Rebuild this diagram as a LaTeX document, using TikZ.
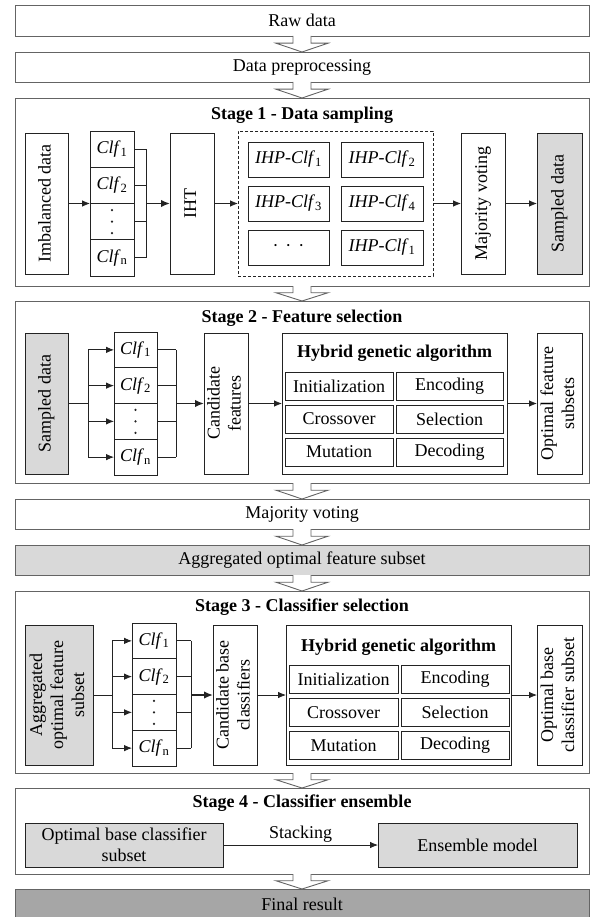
\documentclass[tikz,border=0pt]{standalone}
\usepackage{fontspec}
\usepackage{graphicx}
\setmainfont{Liberation Serif}
\usetikzlibrary{arrows.meta,calc}

\definecolor{frame}{RGB}{100,100,100}
\definecolor{ink}{RGB}{35,35,35}
\definecolor{lightfill}{RGB}{217,217,217}
\definecolor{darkfill}{RGB}{166,166,166}

\newcommand\clf[1]{\textit{Clf}\textsubscript{#1}}
\newcommand\ihp[1]{\textit{IHP-Clf}\textsubscript{#1}}
\newcommand\vlabel[1]{\rotatebox{90}{\begin{tabular}{@{}c@{}}#1\end{tabular}}}
% hollow block arrow between two stacked panels
\newcommand\hollowarrow[2]{%
  \path[hollow] let \p1=(#1.south), \p2=(#2.north), \n1={0.45*(\y1-\y2)} in
    (\x1-9pt,\y1) -- (\x1-9pt,\y1-\n1*1pt) -- (\x1-26pt,\y1-\n1*1pt) -- (\x1,\y2)
    -- (\x1+26pt,\y1-\n1*1pt) -- (\x1+9pt,\y1-\n1*1pt) -- (\x1+9pt,\y1);}

\begin{document}
\begin{tikzpicture}[x=1pt,y=-1pt,
  every node/.style={font=\fontsize{18}{21}\selectfont, inner sep=0pt, outer sep=0pt},
  outer/.style={draw=frame, line width=0.9pt, fill=white, minimum width=574pt},
  box/.style={draw=ink, line width=0.8pt, fill=white, align=center},
  gbox/.style={box, fill=lightfill},
  title/.style={font=\bfseries\fontsize{18}{21}\selectfont},
  dashedbox/.style={draw=ink, line width=0.8pt, dash pattern=on 3pt off 2pt},
  arr/.style={draw=ink, line width=0.8pt, -{Latex[length=8pt,width=6.5pt]}},
  bigarr/.style={draw=ink, line width=1.6pt, -{Latex[length=9pt,width=7.5pt]}},
  wire/.style={draw=ink, line width=0.8pt},
  hollow/.style={draw=frame, line width=0.9pt, fill=white},
  vcell/.style={box, minimum width=44pt, minimum height=35.75pt},
  gacell/.style={box, minimum height=28pt},
  ihpcell/.style={box, minimum height=35pt},
]
\useasboundingbox (0,0) rectangle (590,917);

% ---------- panels ----------
\node[outer, minimum height=31pt] (raw) at (302,20.5) {Raw data};
\node[outer, minimum height=30pt] (prep) at (302,67) {Data preprocessing};
\node[outer, minimum height=188pt] (st1) at (302,192) {};
\node[outer, minimum height=182pt] (st2) at (302,392) {};
\node[outer, minimum height=30pt] (vote) at (302,514) {Majority voting};
\node[outer, minimum height=30pt, fill=lightfill] (aggr) at (302,560) {Aggregated optimal feature subset};
\node[outer, minimum height=182pt] (st3) at (302,682) {};
\node[outer, minimum height=86pt] (st4) at (302,831) {};
\node[outer, minimum height=30pt, fill=darkfill] (fin) at (302,904) {Final result};

\hollowarrow{raw}{prep}
\hollowarrow{prep}{st1}
\hollowarrow{st1}{st2}
\hollowarrow{st2}{vote}
\hollowarrow{vote}{aggr}
\hollowarrow{aggr}{st3}
\hollowarrow{st3}{st4}
\hollowarrow{st4}{fin}

% ---------- Stage 1 ----------
\node[title] (t1) at (302,115) {Stage 1 - Data sampling};
\node[box, minimum width=43pt, minimum height=141pt] (imb) at (46.5,203.5) {\vlabel{Imbalanced data}};
\node[vcell, minimum height=36.25pt] (a1) at (112,149.125) {\clf{1}};
\node[vcell, minimum height=36.25pt] (a2) at (112,185.375) {\clf{2}};
\node[vcell, minimum height=36.25pt] (a3) at (112,221.625) {};
\node[vcell, minimum height=36.25pt] (a4) at (112,257.875) {\clf{n}};
\node[box, minimum width=44pt, minimum height=141pt] (iht) at (192,203.5) {\vlabel{IHT}};
\node[dashedbox, minimum width=195pt, minimum height=145pt] (ihp) at (335.5,203.5) {};
\node[ihpcell, minimum width=81pt] (p1) at (288.5,159.5) {\ihp{1}};
\node[ihpcell, minimum width=82pt] (p2) at (382,159.5) {\ihp{2}};
\node[ihpcell, minimum width=81pt] (p3) at (288.5,203.5) {\ihp{3}};
\node[ihpcell, minimum width=82pt] (p4) at (382,203.5) {\ihp{4}};
\node[ihpcell, minimum width=81pt] (p5) at (288.5,247.5) {·\hspace{7pt}·\hspace{7pt}·};
\node[ihpcell, minimum width=82pt] (p6) at (382,247.5) {\ihp{1}};
\node[box, minimum width=44pt, minimum height=141pt] (mv1) at (483,203.5) {\vlabel{Majority voting}};
\node[gbox, minimum width=45pt, minimum height=141pt] (sd1) at (559.5,203.5) {\vlabel{Sampled data}};

\coordinate (br1) at (146,203.5);
\draw[arr] (imb) -- (a2.south west);
\draw[wire] (a1.east) -- (a1.east -| br1) -- (a4.east -| br1) -- (a4.east);
\draw[wire] (a2.east) -- (a2.east -| br1);
\draw[wire] (a3.east) -- (a3.east -| br1);
\draw[bigarr] (br1) -- (iht);
\draw[arr] (iht) -- (ihp);
\draw[arr] (ihp) -- (mv1);
\draw[arr] (mv1) -- (sd1);

% ---------- Stage 2 ----------
\node[title] (t2) at (302,318) {Stage 2 - Feature selection};
\node[gbox, minimum width=43pt, minimum height=141pt] (sd2) at (46.5,403.5) {\vlabel{Sampled data}};
\node[vcell, minimum width=43pt] (b1) at (135.5,349.875) {\clf{1}};
\node[vcell, minimum width=43pt] (b2) at (135.5,385.625) {\clf{2}};
\node[vcell, minimum width=43pt] (b3) at (135.5,421.375) {};
\node[vcell, minimum width=43pt] (b4) at (135.5,457.125) {\clf{n}};
\node[box, minimum width=44pt, minimum height=141pt] (cand) at (226,403.5) {\vlabel{Candidate\\features}};
\node[box, minimum width=225pt, minimum height=141pt] (ga2) at (394.5,403.5) {};
\node[title] (gt2) at (394.5,353) {Hybrid genetic algorithm};
\node[gacell, minimum width=108pt] (g21) at (339,386) {Initialization};
\node[gacell, minimum width=107pt] (g22) at (449.5,386) {Encoding};
\node[gacell, minimum width=108pt] (g23) at (339,419) {Crossover};
\node[gacell, minimum width=107pt] (g24) at (449.5,419) {Selection};
\node[gacell, minimum width=108pt] (g25) at (339,452) {Mutation};
\node[gacell, minimum width=107pt] (g26) at (449.5,452) {Decoding};
\node[box, minimum width=45pt, minimum height=141pt] (ofs) at (559.5,403.5) {\vlabel{Optimal feature\\subsets}};

\coordinate (fo2) at (88,403.5);
\coordinate (fi2) at (176,403.5);
\draw[wire] (sd2) -- (fo2);
\draw[wire] (fo2 |- b1.west) -- (fo2 |- b4.west);
\foreach \c in {b1,b2,b3,b4} \draw[arr] (fo2 |- \c.west) -- (\c.west);
\draw[wire] (b1.east -| fi2) -- (b4.east -| fi2);
\foreach \c in {b1,b2,b3,b4} \draw[wire] (\c.east) -- (\c.east -| fi2);
\draw[bigarr] (fi2) -- (cand);
\draw[arr] (cand) -- (ga2);
\draw[arr] (ga2) -- (ofs);

% ---------- Stage 3 ----------
\node[title] (t3) at (302,607) {Stage 3 - Classifier selection};
\node[gbox, minimum width=68pt, minimum height=140pt] (agg3) at (59,695) {\vlabel{Aggregated\\optimal feature\\subset}};
\node[vcell] (c1) at (154,640.875) {\clf{1}};
\node[vcell] (c2) at (154,676.625) {\clf{2}};
\node[vcell] (c3) at (154,712.375) {};
\node[vcell] (c4) at (154,748.125) {\clf{n}};
\node[box, minimum width=44pt, minimum height=140pt] (cbc) at (235,695) {\vlabel{Candidate base\\classifiers}};
\node[box, minimum width=225pt, minimum height=140pt] (ga3) at (398.5,695) {};
\node[title] (gt3) at (398.5,647) {Hybrid genetic algorithm};
\node[gacell, minimum width=109pt] (g31) at (343.5,679) {Initialization};
\node[gacell, minimum width=108pt] (g32) at (455,679) {Encoding};
\node[gacell, minimum width=109pt] (g33) at (343.5,712.5) {Crossover};
\node[gacell, minimum width=108pt] (g34) at (455,712.5) {Selection};
\node[gacell, minimum width=109pt] (g35) at (343.5,745.5) {Mutation};
\node[gacell, minimum width=108pt] (g36) at (455,745.5) {Decoding};
\node[box, minimum width=45pt, minimum height=140pt] (obc) at (559.5,695) {\vlabel{Optimal base\\classifier subset}};

\coordinate (fo3) at (112,695);
\coordinate (fi3) at (191,695);
\draw[wire] (agg3) -- (fo3);
\draw[wire] (fo3 |- c1.west) -- (fo3 |- c4.west);
\foreach \c in {c1,c2,c3,c4} \draw[arr] (fo3 |- \c.west) -- (\c.west);
\draw[wire] (c1.east -| fi3) -- (c4.east -| fi3);
\foreach \c in {c1,c2,c3,c4} \draw[wire] (\c.east) -- (\c.east -| fi3);
\draw[bigarr] (fi3) -- (cbc);
\draw[arr] (cbc) -- (ga3);
\draw[arr] (ga3) -- (obc);

% vertical ellipses in the classifier columns
\foreach \c in {a3,b3,c3} {
  \fill[ink] ($(\c)+(0,-11.5)$) circle (1.2pt);
  \fill[ink] (\c) circle (1.2pt);
  \fill[ink] ($(\c)+(0,11.5)$) circle (1.2pt);
}

% ---------- Stage 4 ----------
\node[title] (t4) at (302,803) {Stage 4 - Classifier ensemble};
\node[gbox, minimum width=198pt, minimum height=44pt] (obs4) at (124,845) {Optimal base classifier\\subset};
\node[gbox, minimum width=199pt, minimum height=44pt] (ens) at (477.5,845) {Ensemble model};
\draw[arr] (obs4) -- node[above=3pt] {Stacking} (ens);
\end{tikzpicture}
\end{document}
